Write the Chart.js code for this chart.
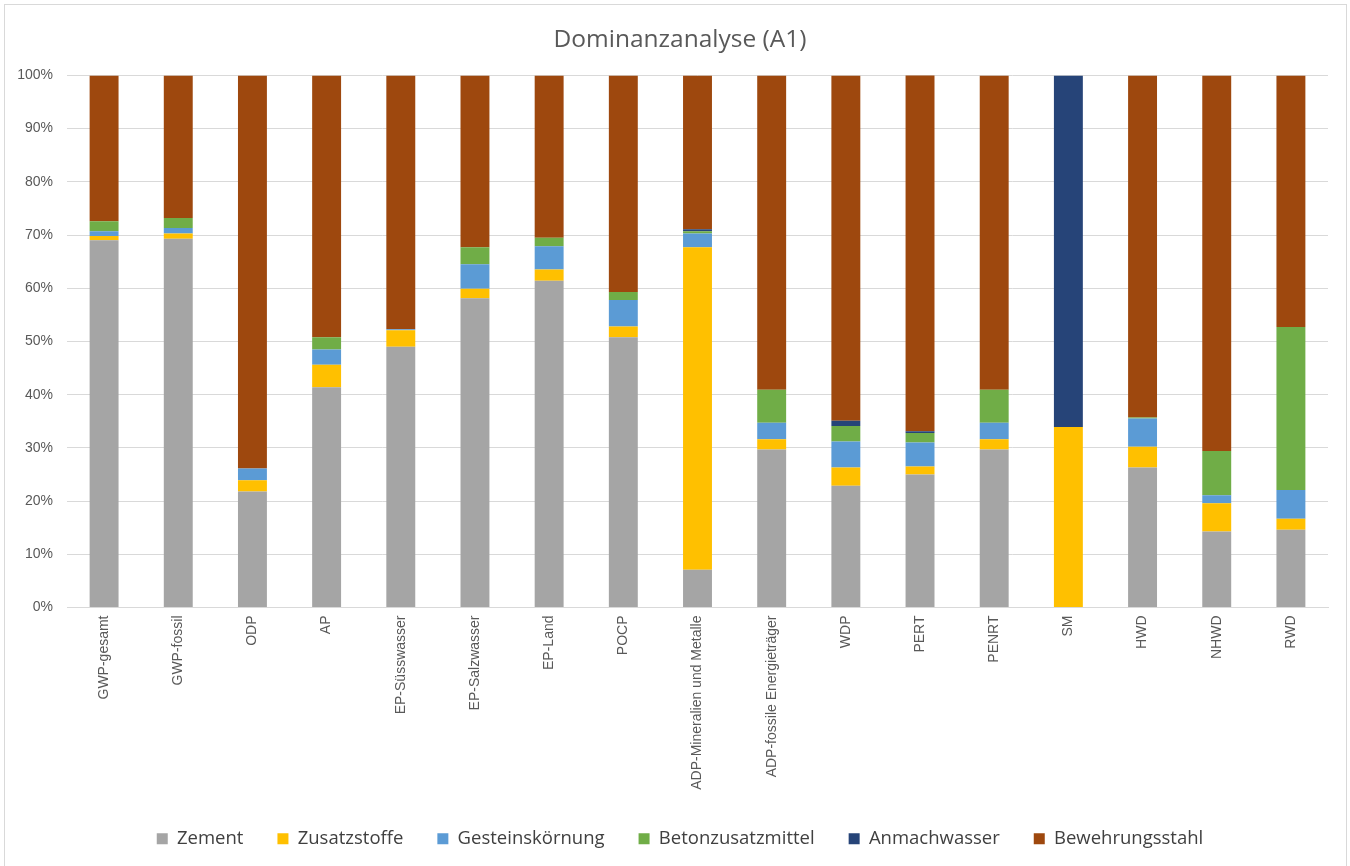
<!DOCTYPE html>
<html>
<head>
<meta charset="utf-8">
<script src="https://cdn.jsdelivr.net/npm/chart.js@4/dist/chart.umd.min.js"></script>
<style>
  html,body{margin:0;padding:0;background:#fff;overflow:hidden;}
  #wrap{width:1350px;height:866px;position:relative;}
  #frame{position:absolute;left:4px;top:4px;width:1341px;height:870px;border:1px solid #d9d9d9;pointer-events:none;}
  canvas{display:block;position:absolute;left:0;top:0;}
</style>
</head>
<body>
<div id="wrap"><canvas id="chart" width="1350" height="866"></canvas><div id="frame"></div></div>
<script>
const categories = ["GWP-gesamt","GWP-fossil","ODP","AP","EP-Süsswasser","EP-Salzwasser","EP-Land","POCP",
  "ADP-Mineralien und Metalle","ADP-fossile Energieträger","WDP","PERT","PENRT","SM","HWD","NHWD","RWD"];

// Anteile in %
const zement        = [69.0,69.3,21.8,41.4,49.0,58.1,61.4,50.8, 7.1,29.7,22.9,25.0,29.7, 0.0,26.3,14.3,14.6];
const zusatzstoffe  = [ 0.8, 1.0, 2.1, 4.2, 3.1, 1.8, 2.1, 2.0,60.6, 1.9, 3.4, 1.5, 1.9,33.9, 3.9, 5.3, 2.1];
const gestein       = [ 0.9, 1.0, 2.2, 2.9, 0.2, 4.6, 4.4, 5.0, 2.6, 3.1, 4.9, 4.5, 3.1, 0.0, 5.3, 1.5, 5.4];
const betonzusatz   = [ 1.9, 1.9, 0.0, 2.3, 0.0, 3.2, 1.6, 1.5, 0.4, 6.2, 2.9, 1.8, 6.2, 0.0, 0.2, 8.3,30.6];
const anmachwasser  = [ 0.0, 0.0, 0.0, 0.0, 0.0, 0.0, 0.0, 0.0, 0.4, 0.0, 1.0, 0.3, 0.0,66.1, 0.0, 0.0, 0.0];
const stahl         = [27.4,26.8,73.9,49.2,47.7,32.3,30.5,40.7,28.9,59.1,64.9,67.0,59.1, 0.0,64.3,70.6,47.3];

const yTicks = [0,10,20,30,40,50,60,70,80,90,100];

const series = [
  {label:"Zement", data:zement, color:"#a5a5a5"},
  {label:"Zusatzstoffe", data:zusatzstoffe, color:"#ffc000"},
  {label:"Gesteinskörnung", data:gestein, color:"#5b9bd5"},
  {label:"Betonzusatzmittel", data:betonzusatz, color:"#70ad47"},
  {label:"Anmachwasser", data:anmachwasser, color:"#264478"},
  {label:"Bewehrungsstahl", data:stahl, color:"#9e480e"}
];

const sans = "'Open Sans',sans-serif";
const arial = "'Liberation Sans',Arial,sans-serif";
const gridCol = "#d9d9d9";

// Titel und Legende mittig im Diagrammrahmen statt im Layoutbereich
const centerShift = {
  id: "centerShift",
  afterLayout(chart) {
    [chart.titleBlock, chart.legend].forEach(b => { if (b) { b.left += 16; b.right += 16; } });
  }
};

new Chart(document.getElementById("chart").getContext("2d"), {
  type: "bar",
  data: {
    labels: categories,
    datasets: series.map(s => ({
      label: s.label, data: s.data, backgroundColor: s.color, borderWidth: 0,
      barPercentage: 0.39, categoryPercentage: 1.0
    }))
  },
  options: {
    responsive: false,
    animation: false,
    layout: { padding: { left: 0, right: 22, top: 0, bottom: 8 } },
    plugins: {
      title: {
        display: true, text: "Dominanzanalyse (A1)", color: "#595959",
        font: { family: sans, size: 24.5, weight: "normal" },
        padding: { top: 25, bottom: 21 }
      },
      legend: {
        position: "bottom",
        labels: {
          color: "#404040", boxWidth: 11, boxHeight: 11, padding: 34,
          font: { family: sans, size: 18.5 }
        }
      },
      tooltip: { enabled: false }
    },
    scales: {
      x: {
        stacked: true,
        afterFit: s => { s.height = 188; },
        grid: { display: false, drawTicks: false },
        border: { color: gridCol, width: 1 },
        ticks: {
          color: "#595959", maxRotation: 90, minRotation: 90, autoSkip: false, padding: 8,
          font: { family: arial, size: 14 }
        }
      },
      y: {
        stacked: true, min: 0, max: 100,
        afterBuildTicks: s => { s.ticks = yTicks.map(v => ({ value: v })); },
        afterFit: s => { s.width = 67; },
        grid: { color: gridCol, lineWidth: 1, drawTicks: false },
        border: { display: false },
        ticks: {
          color: "#595959", padding: 14,
          font: { family: arial, size: 14 },
          callback: v => v + "%"
        }
      }
    }
  },
  plugins: [centerShift]
});
</script>
</body>
</html>
